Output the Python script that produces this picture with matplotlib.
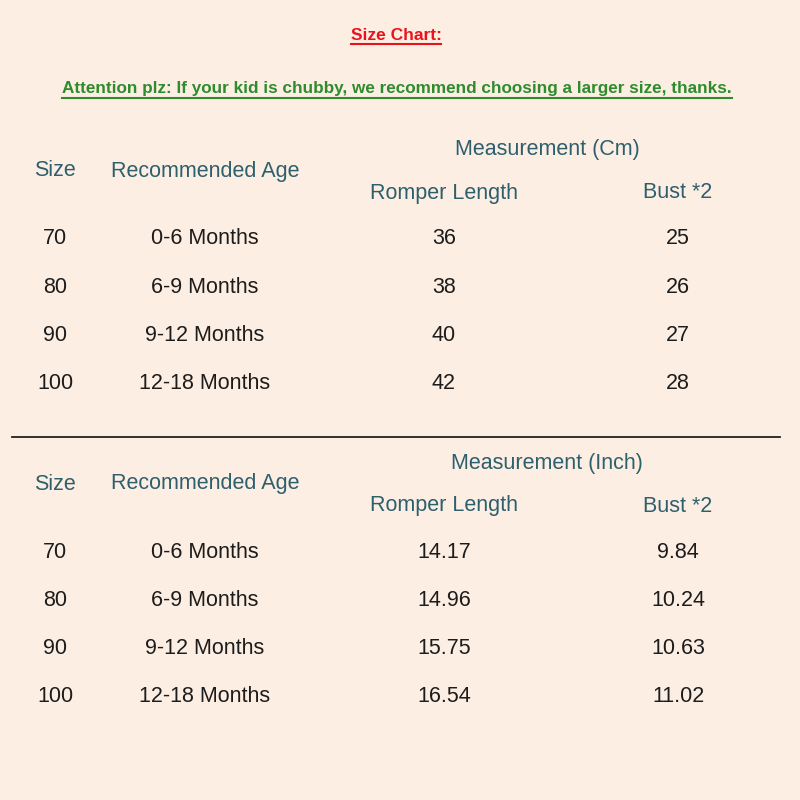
import matplotlib
matplotlib.use("Agg")
import matplotlib.pyplot as plt

sizes = ["70", "80", "90", "100"]
ages = ["0-6 Months", "6-9 Months", "9-12 Months", "12-18 Months"]
romper_cm = ["36", "38", "40", "42"]
bust_cm = ["25", "26", "27", "28"]
romper_in = ["14.17", "14.96", "15.75", "16.54"]
bust_in = ["9.84", "10.24", "10.63", "11.02"]

bg = "#fdeee3"
head_col = "#2d5f6c"
body_col = "#1c1c1c"
font = ["Liberation Sans Narrow", "Liberation Sans", "DejaVu Sans"]

fig = plt.figure(figsize=(8, 8), dpi=100, facecolor=bg)
ax = fig.add_axes([0, 0, 1, 1])
ax.set_xlim(0, 800)
ax.set_ylim(800, 0)
ax.axis("off")
ax.set_facecolor(bg)

cols = [55, 205, 444, 678]


def underlined(x, y, s, color, size):
    t = ax.text(x, y, s, color=color, fontsize=size, fontweight="bold",
                ha="center", va="center", family=font)
    fig.canvas.draw()
    bb = t.get_window_extent().transformed(ax.transData.inverted())
    ax.plot([bb.x0, bb.x1], [max(bb.y0, bb.y1) + 1, max(bb.y0, bb.y1) + 1],
            color=color, lw=1.5)


underlined(396, 35, "Size Chart:", "#e8141b", 12.5)
underlined(397, 89, "Attention plz: If your kid is chubby, we recommend choosing a larger size, thanks.",
           "#2e8b2e", 12.3)


def block(top, unit, romper, bust):
    kw = dict(ha="center", va="center", family=font, fontsize=15.5)
    ax.text(547, top, "Measurement (%s)" % unit, color=head_col, **kw)
    ax.text(cols[0], top + 21, "Size", color=head_col, **kw)
    ax.text(cols[1], top + 21, "Recommended Age", color=head_col, **kw)
    ax.text(cols[2], top + 43, "Romper Length", color=head_col, **kw)
    ax.text(cols[3], top + 43, "Bust *2", color=head_col, **kw)
    for i in range(len(sizes)):
        y = top + 89 + i * 48.3
        for x, v in zip(cols, [sizes[i], ages[i], romper[i], bust[i]]):
            ax.text(x, y, v, color=body_col, **kw)


block(150, "Cm", romper_cm, bust_cm)
ax.plot([12, 780], [437, 437], color="#222222", lw=1.3)
block(463, "Inch", romper_in, bust_in)

fig.savefig("out.png", dpi=100, facecolor=bg)
